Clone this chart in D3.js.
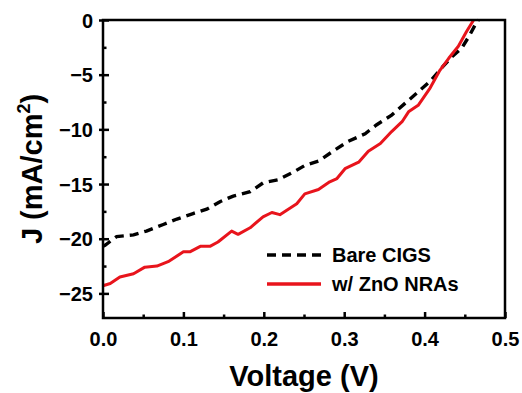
<!DOCTYPE html>
<html><head><meta charset="utf-8">
<script src="https://cdn.jsdelivr.net/npm/d3@7"></script>
<style>
body{margin:0;background:#fff;}
svg text{font-family:"Liberation Sans",Arial,sans-serif;font-weight:bold;fill:#000;}
</style></head>
<body><svg id="c" width="522" height="393"></svg>
<script>
const bareV = [0,0.0025,0.017,0.038,0.054,0.075,0.092,0.112,0.129,0.146,0.162,0.183,0.199,0.218,0.237,0.251,0.268,0.286,0.305,0.326,0.340,0.359,0.376,0.390,0.407,0.421,0.434,0.446,0.456,0.465,0.467];
const bareJ = [-20.7,-20.6,-19.8,-19.65,-19.3,-18.7,-18.2,-17.7,-17.3,-16.6,-16.1,-15.7,-14.9,-14.6,-13.9,-13.3,-12.9,-12.0,-11.1,-10.4,-9.6,-8.7,-7.6,-6.7,-5.6,-4.4,-3.35,-2.6,-1.4,-0.15,0];
const znoV = [0,0.009,0.021,0.038,0.052,0.067,0.081,0.100,0.108,0.121,0.133,0.143,0.160,0.168,0.183,0.199,0.210,0.220,0.241,0.251,0.268,0.282,0.291,0.301,0.318,0.330,0.345,0.359,0.372,0.380,0.392,0.407,0.419,0.430,0.442,0.452,0.461];
const znoJ = [-24.3,-24.1,-23.5,-23.2,-22.6,-22.5,-22.1,-21.2,-21.2,-20.7,-20.7,-20.3,-19.3,-19.6,-19.0,-18.0,-17.6,-17.8,-16.8,-15.9,-15.5,-14.8,-14.5,-13.6,-13.0,-12.0,-11.3,-10.2,-9.3,-8.4,-7.8,-6.2,-4.6,-3.5,-2.4,-1.07,0];
const xTicks = [0,0.1,0.2,0.3,0.4,0.5];
const xMinor = [0.05,0.15,0.25,0.35,0.45];
const yTicks = [0,-5,-10,-15,-20,-25];
const yMinor = [-2.5,-7.5,-12.5,-17.5,-22.5];
const seriesNames = ["Bare CIGS","w/ ZnO NRAs"];

const svg = d3.select("#c");
const L=103,R=505,T=20,B=318;
const x = d3.scaleLinear().domain([0,0.5]).range([L,R]);
const y = d3.scaleLinear().domain([-27.25,0]).range([B,T]);

const line = d3.line().x(d=>x(d[0])).y(d=>y(d[1]));
const bare = bareV.map((v,i)=>[v,bareJ[i]]);
const zno = znoV.map((v,i)=>[v,znoJ[i]]);

svg.append("path").attr("d",line(bare)).attr("fill","none").attr("stroke","#000").attr("stroke-width",3.4).attr("stroke-dasharray","9,6");
svg.append("path").attr("d",line(zno)).attr("fill","none").attr("stroke","#e8141c").attr("stroke-width",3).attr("stroke-linejoin","round");

// frame
svg.append("rect").attr("x",L).attr("y",T).attr("width",R-L).attr("height",B-T).attr("fill","none").attr("stroke","#000").attr("stroke-width",2.5);

// x axis
const xa = svg.append("g").attr("transform",`translate(0,${B})`)
 .call(d3.axisBottom(x).tickValues(xTicks).tickFormat(d3.format(".1f")).tickSizeInner(-6).tickSizeOuter(0).tickPadding(14));
xa.select(".domain").remove();
xa.selectAll("line").attr("stroke-width",2.5);
xa.selectAll("text").attr("font-size",20).attr("font-family","Liberation Sans, Arial, sans-serif").attr("font-weight","bold");
const xm = svg.append("g").attr("transform",`translate(0,${B})`)
 .call(d3.axisBottom(x).tickValues(xMinor).tickFormat("").tickSizeInner(-3.5).tickSizeOuter(0));
xm.select(".domain").remove(); xm.selectAll("line").attr("stroke-width",2.5);

// y axis
const ya = svg.append("g").attr("transform",`translate(${L},0)`)
 .call(d3.axisLeft(y).tickValues(yTicks).tickFormat(d3.format("d")).tickSizeInner(-6).tickSizeOuter(0).tickPadding(10));
ya.select(".domain").remove();
ya.selectAll("line").attr("stroke-width",2.5).attr("x1",-4);
ya.selectAll("text").attr("font-size",20).attr("font-family","Liberation Sans, Arial, sans-serif").attr("font-weight","bold").attr("dy","0.35em");
const ym = svg.append("g").attr("transform",`translate(${L},0)`)
 .call(d3.axisLeft(y).tickValues(yMinor).tickFormat("").tickSizeInner(-3.5).tickSizeOuter(0));
ym.select(".domain").remove(); ym.selectAll("line").attr("stroke-width",2.5);

// titles
svg.append("text").attr("x",(L+R)/2).attr("y",386).attr("text-anchor","middle").attr("font-size",29).text("Voltage (V)");
const yt = svg.append("text").attr("transform",`translate(42,${(T+B)/2}) rotate(-90)`).attr("text-anchor","middle").attr("font-size",29);
yt.append("tspan").text("J (mA/cm");
yt.append("tspan").attr("font-size",18).attr("dy",-12).text("2");
yt.append("tspan").attr("dy",12).text(")");

// legend
const lg = [{y:255,dash:"9,6",color:"#000"},{y:284,dash:null,color:"#e8141c"}];
lg.forEach((d,i)=>{
  svg.append("line").attr("x1",267).attr("x2",321).attr("y1",d.y).attr("y2",d.y)
    .attr("stroke",d.color).attr("stroke-width",3.4).attr("stroke-dasharray",d.dash);
  svg.append("text").attr("x",332).attr("y",d.y+7).attr("font-size",20).text(seriesNames[i]);
});
</script></body></html>
